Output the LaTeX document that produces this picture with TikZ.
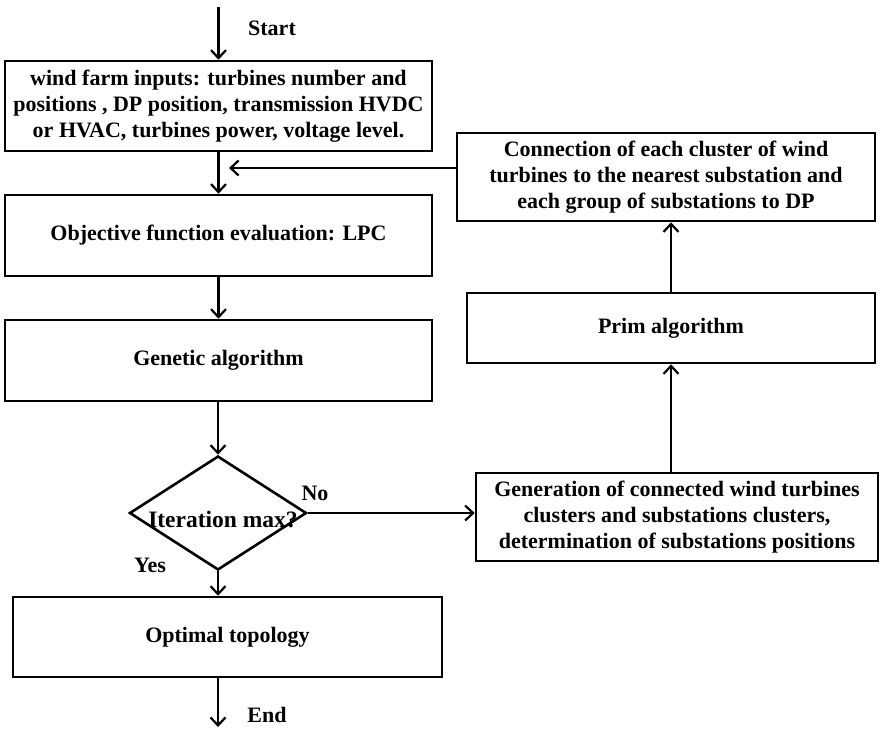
\documentclass[tikz,border=0pt]{standalone}
\usepackage{fontspec}
\setmainfont{Liberation Serif}
\usetikzlibrary{arrows.meta,shapes.geometric}
\begin{document}
\begin{tikzpicture}[x=1pt,y=-1pt,
  box/.style={draw,line width=2.6pt,minimum width=427pt,inner sep=0pt,align=center,
    font=\bfseries\fontsize{22}{26}\selectfont},
  lbl/.style={inner sep=0pt,font=\bfseries\fontsize{22}{26}\selectfont},
  arr/.style={line width=2.2pt,-{Straight Barb[length=8pt,width=15pt,line width=2.2pt]}}]
\useasboundingbox (0,0) rectangle (885,729);
\fill[white] (0,0) rectangle (885,729);
% left column
\node[box,minimum height=90pt] (inp) at (218.5,106) {wind farm inputs: turbines number and\\positions , DP position, transmission HVDC\\or HVAC, turbines power, voltage level.};
\node[box,minimum height=81pt] (obj) at (218.5,235.5) {Objective function evaluation: LPC};
\node[box,minimum height=81pt] (gen) at (218.5,360.5) {Genetic algorithm};
\node[diamond,draw,line width=2.6pt,inner sep=0pt,minimum width=177pt,minimum height=114pt] (dec) at (218,513) {};
\node[lbl,font=\bfseries\fontsize{23.5}{26}\selectfont] (dect) at (223,520) {Iteration max?};
\node[box,minimum width=429pt,minimum height=80pt] (opt) at (227.5,637) {Optimal topology};
% right column
\node[box,minimum width=418pt,minimum height=88pt] (con) at (666,177) {Connection of each cluster of wind\\turbines to the nearest substation and\\each group of substations to DP};
\node[box,minimum width=408pt,minimum height=70pt] (prim) at (671,328) {Prim algorithm};
\node[box,minimum width=402pt,minimum height=88pt] (gcl) at (677,517) {Generation of connected wind turbines\\clusters and substations clusters,\\determination of substations positions};
% labels
\node[lbl] (start) at (272,28) {Start};
\node[lbl] (end) at (267,715) {End};
\node[lbl] (no) at (315,493) {No};
\node[lbl] (yes) at (150,565) {Yes};
% coordinates
\coordinate (top) at (218.5,7);
\coordinate (bot) at (218,727);
\coordinate (join) at (229,168);
% connectors
\draw[arr] (top) -- (inp.north);
\draw[arr] (inp.south) -- (obj.north);
\draw[arr] (obj.south) -- (gen.north);
\draw[arr] (gen.south -| dec.north) -- (dec.north);
\draw[arr] (dec.south) -- (dec.south |- opt.north);
\draw[arr] (opt.south -| dec.south) -- (bot);
\draw[arr] (dec.east) -- (dec.east -| gcl.west);
\draw[arr] (gcl.north -| prim.south) -- (prim.south);
\draw[arr] (prim.north) -- (prim.north |- con.south);
\draw[arr] ([yshift=9pt]con.west) -- (join);
\end{tikzpicture}
\end{document}
